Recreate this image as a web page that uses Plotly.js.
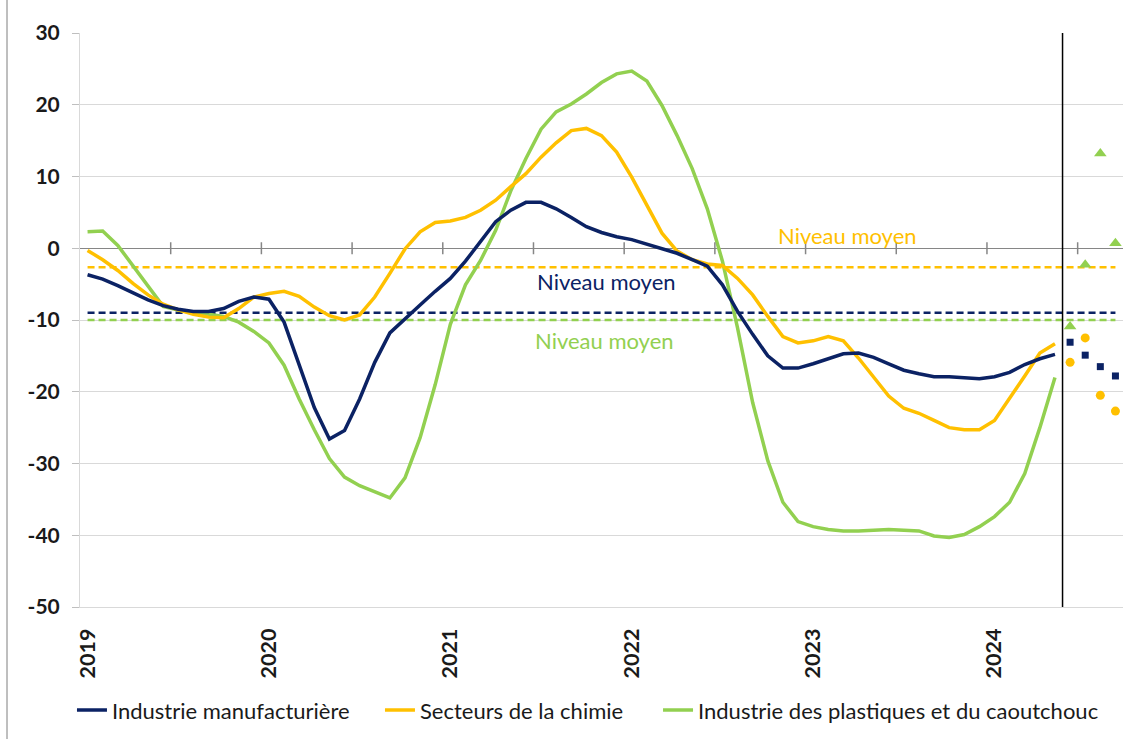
<!DOCTYPE html>
<html>
<head>
<meta charset="utf-8">
<script src="https://cdn.plot.ly/plotly-3.0.1.min.js"></script>
<style>html,body{margin:0;padding:0;background:#fff;}#chart{width:1134px;height:742px;}</style>
</head>
<body>
<div id="chart"></div>
<script>
// Monthly data, Jan 2019 .. May 2024 (index 0..64)
const yearLabels = ["2019", "2020", "2021", "2022", "2023", "2024"];
const yTickValues = [-50, -40, -30, -20, -10, 0, 10, 20, 30];
const yTickLabels = ["-50", "-40", "-30", "-20", "-10", "0", "10", "20", "30"];
const seriesNames = ["Industrie manufacturière", "Secteurs de la chimie", "Industrie des plastiques et du caoutchouc"];

const manufacturiere = [-3.7, -4.3, -5.2, -6.2, -7.2, -8.0, -8.5, -8.8, -8.8, -8.4, -7.4, -6.8, -7.1, -10.3, -16.3, -22.2, -26.6, -25.4, -21.0, -15.9, -11.8, -9.8, -7.9, -6.0, -4.2, -1.8, 0.9, 3.7, 5.3, 6.4, 6.4, 5.5, 4.3, 3.0, 2.2, 1.6, 1.2, 0.6, 0.0, -0.7, -1.6, -2.5, -5.1, -8.8, -12.0, -15.0, -16.7, -16.7, -16.1, -15.4, -14.7, -14.6, -15.2, -16.1, -17.0, -17.5, -17.9, -17.9, -18.0, -18.2, -17.9, -17.3, -16.2, -15.4, -14.8];
const chimie = [-0.3, -1.6, -3.1, -4.9, -6.5, -7.8, -8.6, -9.2, -9.6, -9.7, -8.4, -6.8, -6.3, -6.0, -6.7, -8.2, -9.4, -10.0, -9.3, -6.8, -3.5, -0.1, 2.3, 3.6, 3.8, 4.3, 5.3, 6.7, 8.6, 10.4, 12.7, 14.7, 16.4, 16.7, 15.7, 13.4, 9.9, 6.0, 2.1, -0.4, -1.6, -2.2, -2.4, -4.2, -6.5, -9.5, -12.3, -13.2, -12.9, -12.3, -12.9, -15.3, -18.0, -20.6, -22.3, -23.0, -24.0, -25.0, -25.3, -25.3, -24.0, -21.0, -17.8, -14.6, -13.3];
const plastiques = [2.3, 2.4, 0.4, -2.4, -5.3, -8.1, -8.6, -9.0, -9.2, -9.5, -10.3, -11.6, -13.2, -16.3, -21.0, -25.3, -29.3, -31.9, -33.1, -34.0, -34.8, -32.0, -26.4, -19.0, -10.6, -5.1, -1.7, 2.5, 8.0, 12.5, 16.6, 19.0, 20.1, 21.5, 23.1, 24.3, 24.7, 23.3, 19.9, 15.7, 11.1, 5.5, -1.8, -11.1, -21.5, -29.6, -35.4, -38.1, -38.8, -39.2, -39.4, -39.4, -39.3, -39.2, -39.3, -39.4, -40.1, -40.3, -39.9, -38.8, -37.4, -35.4, -31.4, -25.0, -18.0];

// Forecasts Jun .. Sep 2024
const prevManufacturiere = [-13.1, -14.9, -16.5, -17.8];
const prevChimie = [-15.9, -12.5, -20.5, -22.7];
const prevPlastiques = [-10.9, -2.3, 13.2, 0.7];

// Average levels ("Niveau moyen")
const moyManufacturiere = -9.0;
const moyChimie = -2.65;
const moyPlastiques = -10.0;

const NAVY = "#0b2264", YELLOW = "#FFC000", GREEN = "#92D050";
const FONT = "Lato, 'Open Sans', sans-serif";

const n = manufacturiere.length;
const idx = manufacturiere.map((_, i) => i);
const nTotal = n + prevManufacturiere.length;
const idxPrev = prevManufacturiere.map((_, i) => n + i);

const traces = [];
// average dashed lines
[[moyChimie, YELLOW], [moyManufacturiere, NAVY], [moyPlastiques, GREEN]].forEach(([m, c]) => {
  traces.push({x: [0, nTotal - 1], y: [m, m], mode: "lines", line: {color: c, width: 2.5, dash: "7px,4px"}, showlegend: false, hoverinfo: "skip"});
});
traces.push({x: idx, y: plastiques, name: seriesNames[2], mode: "lines", line: {color: GREEN, width: 3.5}, legend: "legend3"});
traces.push({x: idx, y: chimie, name: seriesNames[1], mode: "lines", line: {color: YELLOW, width: 3.5}, legend: "legend2"});
traces.push({x: idx, y: manufacturiere, name: seriesNames[0], mode: "lines", line: {color: NAVY, width: 3.5}, legend: "legend"});
traces.push({x: idxPrev, y: prevManufacturiere, mode: "markers", marker: {symbol: "square", size: 7, color: NAVY}, showlegend: false});
traces.push({x: idxPrev, y: prevChimie, mode: "markers", marker: {symbol: "circle", size: 9, color: YELLOW}, showlegend: false});
traces.push({x: idxPrev, y: prevPlastiques, mode: "markers", marker: {symbol: "triangle-up", size: 11, color: GREEN}, showlegend: false});

const shapes = [];
// half-year tick marks crossing the zero axis
for (let k = 1; k * 6 - 0.5 < nTotal - 0.5; k++) {
  shapes.push({type: "line", xref: "x", yref: "y", ysizemode: "pixel", yanchor: 0, x0: k * 6 - 0.5, x1: k * 6 - 0.5, y0: -6, y1: 6, line: {color: "#868686", width: 1.5}});
}
// separator between observed data and forecasts
shapes.push({type: "line", xref: "x", yref: "paper", x0: n - 0.5, x1: n - 0.5, y0: 0, y1: 1, line: {color: "#000", width: 1.5}});
// outer frame left edge
shapes.push({type: "line", xref: "paper", yref: "paper", xsizemode: "pixel", xanchor: 0, x0: -73, x1: -73, y0: -0.23, y1: 1.06, line: {color: "#7f7f7f", width: 1}});

const legendFont = {family: FONT, size: 22, color: "#1a1a1a"};
const legBase = {orientation: "h", yanchor: "middle", xanchor: "left", y: -0.18, bgcolor: "rgba(0,0,0,0)", font: legendFont, itemwidth: 30};

const layout = {
  width: 1134, height: 742,
  margin: {l: 80, r: 11, t: 33, b: 132},
  paper_bgcolor: "#fff", plot_bgcolor: "#fff",
  font: {family: FONT, color: "#1a1a1a"},
  xaxis: {
    range: [-0.5, nTotal - 0.5],
    tickvals: yearLabels.map((_, i) => i * 12),
    ticktext: yearLabels,
    tickangle: -90,
    ticks: "",
    ticklabelstandoff: 12,
    showgrid: false, zeroline: false,
    showline: true, linecolor: "#d9d9d9", linewidth: 1,
    tickfont: {family: FONT, size: 21.5, weight: "bold", color: "#1a1a1a"}
  },
  yaxis: {
    range: [-50, 30],
    tickmode: "array", tickvals: yTickValues, ticktext: yTickLabels,
    showgrid: true, gridcolor: "#d9d9d9", gridwidth: 1,
    zeroline: true, zerolinecolor: "#868686", zerolinewidth: 1.5,
    showline: true, linecolor: "#d9d9d9", linewidth: 1,
    ticks: "outside", ticklen: 7, tickcolor: "#bfbfbf",
    ticklabelstandoff: 8,
    tickfont: {family: FONT, size: 21, weight: "bold", color: "#1a1a1a"}
  },
  legend: Object.assign({}, legBase, {x: -0.0077}),
  legend2: Object.assign({}, legBase, {x: 0.2876}),
  legend3: Object.assign({}, legBase, {x: 0.5542}),
  shapes: shapes,
  annotations: [
    {xref: "x", yref: "y", x: 50.3, y: 1.8, text: "Niveau moyen", showarrow: false, font: {family: FONT, size: 22, color: YELLOW}},
    {xref: "x", yref: "y", x: 34.3, y: -4.7, text: "Niveau moyen", showarrow: false, font: {family: FONT, size: 22, color: NAVY}},
    {xref: "x", yref: "y", x: 34.2, y: -12.8, text: "Niveau moyen", showarrow: false, font: {family: FONT, size: 22, color: GREEN}}
  ],
  showlegend: true
};

Plotly.newPlot("chart", traces, layout, {displayModeBar: false, staticPlot: true});
</script>
</body>
</html>
